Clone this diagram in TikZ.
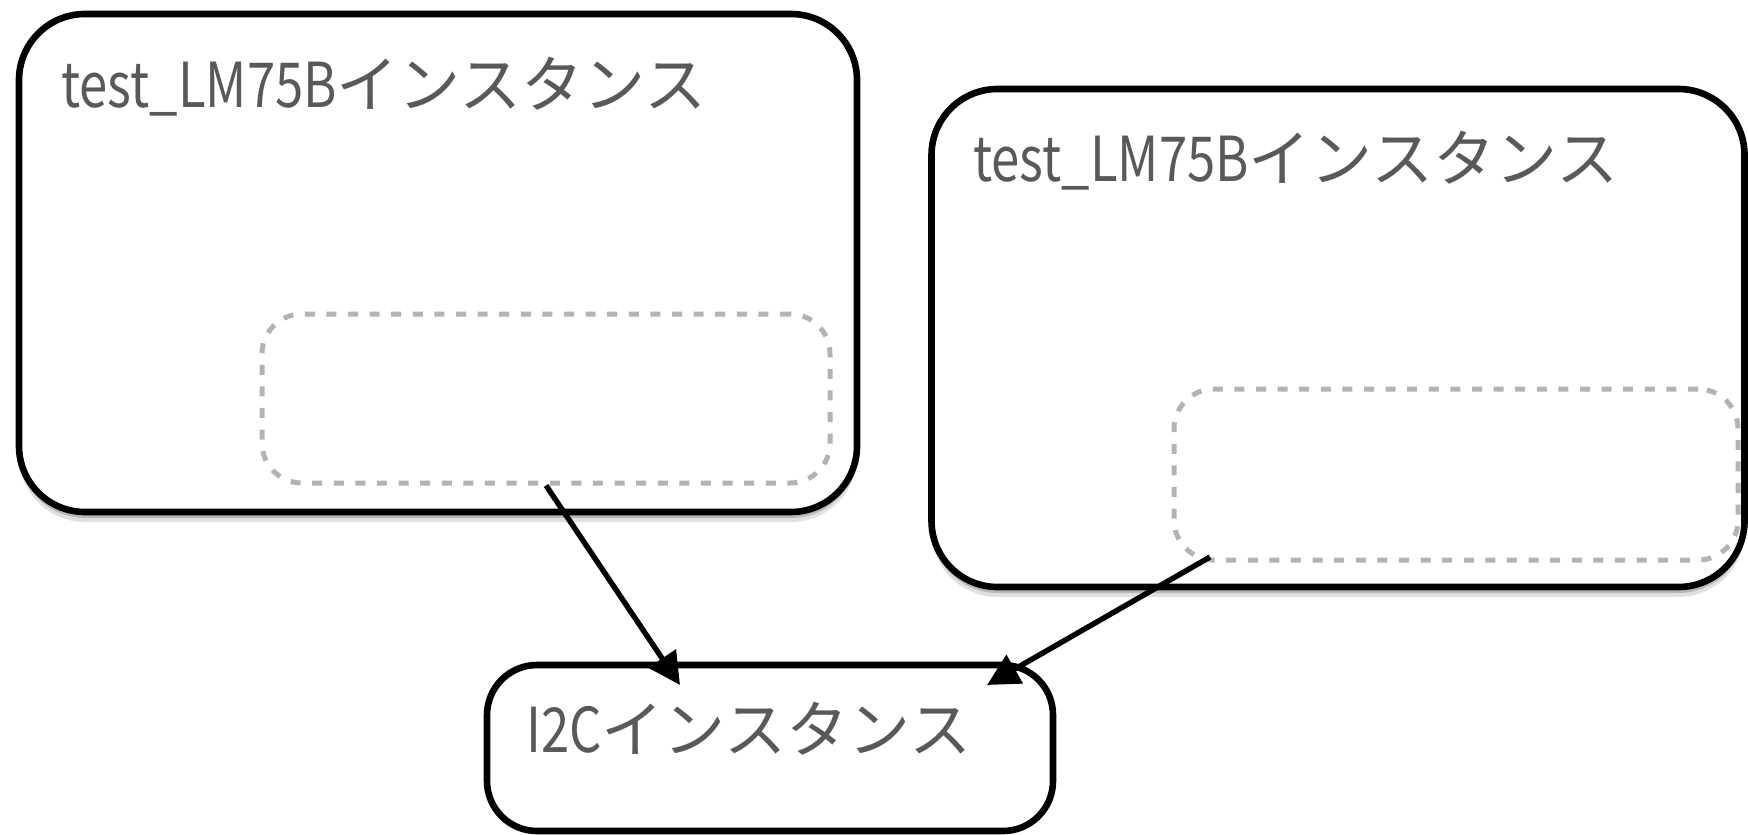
\documentclass[tikz,border=0pt]{standalone}
\usepackage{fontspec}
\usetikzlibrary{arrows.meta,shadows}
\newfontfamily\jpfont{Noto Sans CJK JP}
\newfontfamily\latfont[FakeStretch=0.82]{Noto Sans CJK JP}
\definecolor{txtgray}{HTML}{595959}
\definecolor{dashgray}{HTML}{B3B3B3}
\begin{document}
\begin{tikzpicture}[x=0.5pt,y=-0.5pt,
  box/.style={draw=black, line width=3.3pt, fill=white, rounded corners=33pt, inner sep=0pt},
  shbox/.style={box,
    drop shadow={shadow xshift=0pt, shadow yshift=-5pt, opacity=0.12, fill=black},
    drop shadow={shadow xshift=0pt, shadow yshift=-3pt, opacity=0.18, fill=black}},
  dbox/.style={draw=dashgray, line width=2.5pt, dash pattern=on 5pt off 5.8pt, rounded corners=20pt, inner sep=0pt},
  lbl/.style={anchor=base west, inner sep=0pt, text=txtgray, font=\jpfont\fontsize{31pt}{31pt}\selectfont},
  conn/.style={draw=black, line width=2.7pt, -{Triangle[length=16pt,width=16pt]}}]
\useasboundingbox (0,0) rectangle (1748,834);
% outer boxes
\node[shbox, minimum width=419pt, minimum height=249pt] (b1) at (438,263) {};
\node[shbox, minimum width=406.5pt, minimum height=249pt] (b2) at (1338,338) {};
\node[box, rounded corners=25pt, minimum width=283pt, minimum height=83pt] (b3) at (770,748) {};
% dashed inner boxes
\node[dbox, minimum width=284pt, minimum height=84.5pt] (d1) at (546,398.5) {};
\node[dbox, minimum width=282pt, minimum height=85.5pt] (d2) at (1456,474.5) {};
% labels
\node[lbl] (l1) at (61,108) {{\latfont test\_LM75B}インスタンス};
\node[lbl] (l2) at (973,182) {{\latfont test\_LM75B}インスタンス};
\node[lbl] (l3) at (526,752) {{\latfont I2C}インスタンス};
% connectors
\coordinate (s2) at (1210,557);
\coordinate (t1) at (680,685);
\coordinate (t2) at (987,685);
\draw[conn] (d1.south) -- (t1);
\draw[conn] (s2) -- (t2);
\end{tikzpicture}
\end{document}
